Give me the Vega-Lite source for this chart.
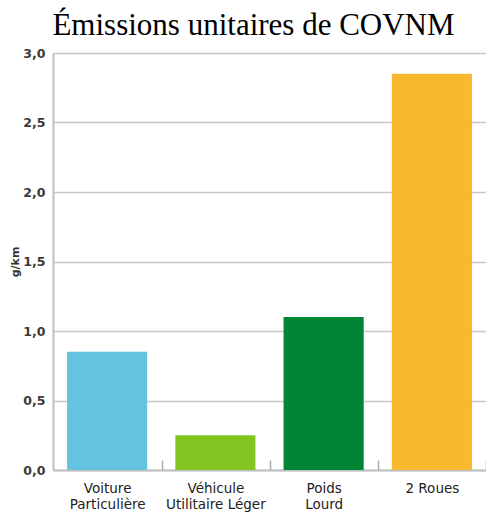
{
  "$schema": "https://vega.github.io/schema/vega-lite/v6.json",
  "width": 433,
  "height": 417,
  "autosize": {"type": "none"},
  "padding": {"left": 53, "top": 53, "right": 0, "bottom": 45},
  "background": "white",
  "title": {
    "text": "Émissions unitaires de COVNM",
    "font": "Liberation Serif",
    "fontSize": 31,
    "fontWeight": "normal",
    "color": "#000000",
    "anchor": "middle",
    "dx": -16,
    "offset": 5
  },
  "data": {
    "values": [
      {"vehicule": "Voiture Particulière", "emission": 0.85},
      {"vehicule": "Véhicule Utilitaire Léger", "emission": 0.25},
      {"vehicule": "Poids Lourd", "emission": 1.1},
      {"vehicule": "2 Roues", "emission": 2.85}
    ]
  },
  "mark": {"type": "bar"},
  "encoding": {
    "x": {
      "field": "vehicule",
      "type": "nominal",
      "sort": null,
      "scale": {"paddingInner": 0.26, "paddingOuter": 0.13},
      "axis": {
        "title": null,
        "labelAngle": 0,
        "labelFont": "DejaVu Sans",
        "labelFontSize": 13.5,
        "labelColor": "#222222",
        "labelLineHeight": 16,
        "labelPadding": 21,
        "labelBaseline": "top",
        "labelOffset": -54.5,
        "labelExpr": "datum.value == null ? '' : datum.value == 'Véhicule Utilitaire Léger' ? ['Véhicule', 'Utilitaire Léger'] : datum.value == '2 Roues' ? '2 Roues' : split(datum.value, ' ')",
        "domainColor": "#c0c0c0",
        "domainWidth": 2,
        "tickOffset": 54.5,
        "tickSize": -10,
        "tickColor": "#a8a8a8",
        "tickWidth": 1.5,
        "grid": false
      }
    },
    "y": {
      "field": "emission",
      "type": "quantitative",
      "scale": {"domain": [0, 3], "nice": false},
      "axis": {
        "title": "g/km",
        "titleFont": "DejaVu Sans",
        "titleFontSize": 11,
        "titleFontWeight": "bold",
        "titleColor": "#333333",
        "titlePadding": 2,
        "values": [0, 0.5, 1, 1.5, 2, 2.5, 3],
        "labelExpr": "replace(format(datum.value, '.1f'), '.', ',')",
        "labelFont": "DejaVu Sans",
        "labelFontSize": 12.5,
        "labelFontWeight": "bold",
        "labelColor": "#3a3a3a",
        "labelPadding": 8,
        "ticks": false,
        "domainColor": "#c0c0c0",
        "domainWidth": 2,
        "grid": true,
        "gridColor": "#c8c8c8",
        "gridWidth": 1.5
      }
    },
    "color": {
      "field": "vehicule",
      "type": "nominal",
      "sort": null,
      "scale": {
        "domain": ["Voiture Particulière", "Véhicule Utilitaire Léger", "Poids Lourd", "2 Roues"],
        "range": ["#64c4de", "#84c420", "#008537", "#f8b830"]
      },
      "legend": null
    }
  },
  "config": {"view": {"stroke": null}}
}
